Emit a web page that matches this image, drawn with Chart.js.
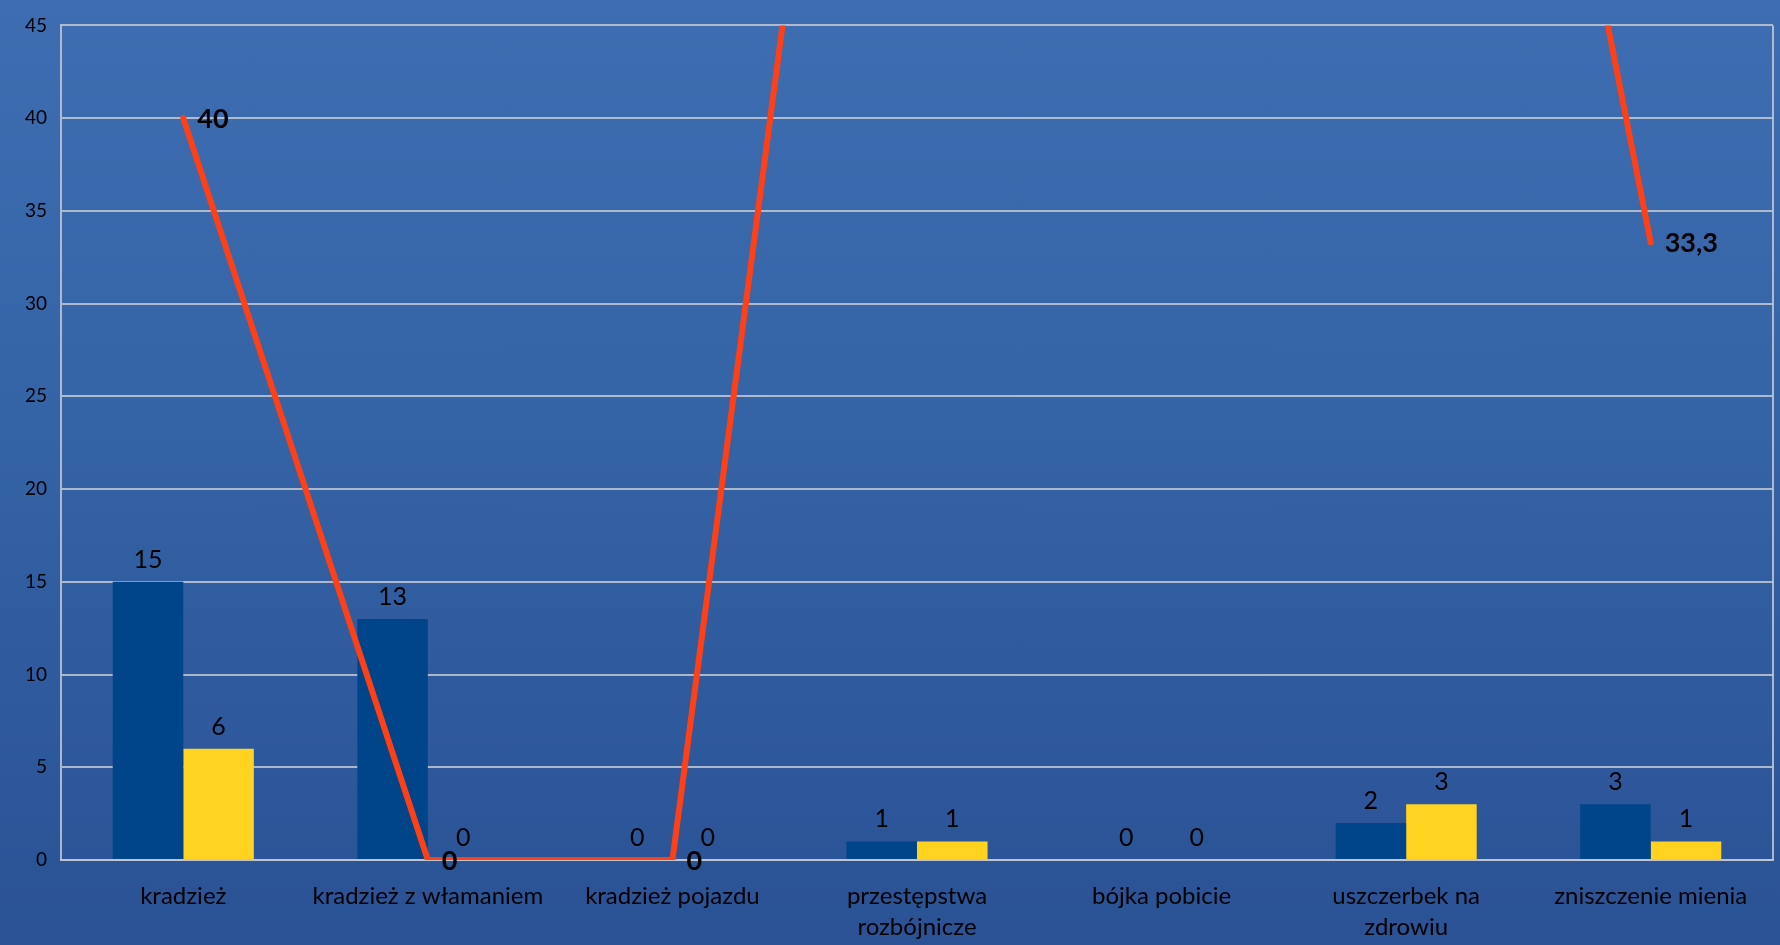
<!DOCTYPE html>
<html>
<head>
<meta charset="utf-8">
<script src="https://cdn.jsdelivr.net/npm/chart.js@4.4.0/dist/chart.umd.min.js"></script>
<style>
  html, body { margin: 0; padding: 0; }
  body { width: 1780px; height: 945px; background: linear-gradient(to bottom, #3E6EB1 0%, #3463A6 45%, #2A5295 100%); overflow: hidden; }
  #wrap { width: 1780px; height: 945px; position: relative; }
</style>
</head>
<body>
<div id="wrap"><canvas id="c" width="1780" height="945"></canvas></div>
<script>
const categories = [
  'kradzież',
  'kradzież z włamaniem',
  'kradzież pojazdu',
  ['przestępstwa', 'rozbójnicze'],
  'bójka pobicie',
  ['uszczerbek na', 'zdrowiu'],
  'zniszczenie mienia'
];
const seriesBlue = [15, 13, 0, 1, 0, 2, 3];
const seriesYellow = [6, 0, 0, 1, 0, 3, 1];
const seriesLine = [40, 0, 0, 100, 100, 100, 33.3];
const yTicks = [0, 5, 10, 15, 20, 25, 30, 35, 40, 45];

const FONT = 'Lato, "Open Sans", sans-serif';

function fmt(v) {
  return String(v).replace('.', ',');
}

const labelPlugin = {
  id: 'labelPlugin',
  afterDatasetsDraw(chart) {
    const ctx = chart.ctx;
    const area = chart.chartArea;
    ctx.save();
    ctx.fillStyle = '#000';
    chart.data.datasets.forEach((ds, di) => {
      const meta = chart.getDatasetMeta(di);
      if (ds.type === 'bar') {
        ctx.font = '25px ' + FONT;
        ctx.textAlign = 'center';
        ctx.textBaseline = 'alphabetic';
        meta.data.forEach((el, i) => {
          ctx.fillText(fmt(ds.data[i]), el.x, el.y - 14);
        });
      } else {
        ctx.font = 'bold 27px ' + FONT;
        ctx.textAlign = 'left';
        ctx.textBaseline = 'middle';
        meta.data.forEach((el, i) => {
          if (el.y >= area.top - 1 && el.y <= area.bottom + 1) {
            ctx.fillText(fmt(ds.data[i]), el.x + 14, el.y + 1);
          }
        });
      }
    });
    ctx.restore();
  },
  beforeDatasetsDraw(chart) {
    const ctx = chart.ctx;
    const a = chart.chartArea;
    ctx.save();
    ctx.strokeStyle = 'rgba(195,200,210,0.85)';
    ctx.lineWidth = 2;
    ctx.beginPath();
    ctx.moveTo(a.right, a.top);
    ctx.lineTo(a.right, a.bottom);
    ctx.stroke();
    ctx.restore();
  }
};

new Chart(document.getElementById('c'), {
  data: {
    labels: categories,
    datasets: [
      {
        type: 'line',
        data: seriesLine,
        borderColor: '#FF4016',
        borderWidth: 6,
        borderCapStyle: 'round',
        borderJoinStyle: 'round',
        pointRadius: 0,
        tension: 0,
        fill: false,
        clip: 0,
        order: 0
      },
      {
        type: 'bar',
        data: seriesBlue,
        backgroundColor: '#004589',
        categoryPercentage: 0.577,
        barPercentage: 1,
        order: 1
      },
      {
        type: 'bar',
        data: seriesYellow,
        backgroundColor: '#FFD320',
        categoryPercentage: 0.577,
        barPercentage: 1,
        order: 2
      }
    ]
  },
  options: {
    responsive: false,
    animation: false,
    devicePixelRatio: 1,
    layout: { padding: { top: 23, right: 7, left: 0, bottom: 0 } },
    plugins: { legend: { display: false }, tooltip: { enabled: false } },
    scales: {
      x: {
        grid: { display: false, drawTicks: false },
        border: { display: true, color: 'rgba(195,200,210,0.85)', width: 2 },
        ticks: {
          color: '#000',
          font: { family: FONT, size: 24, lineHeight: 1.28 },
          padding: 21,
          maxRotation: 0,
          autoSkip: false
        },
        afterFit(scale) { scale.height = 85; }
      },
      y: {
        min: 0,
        max: 45,
        afterBuildTicks(scale) { scale.ticks = yTicks.map(v => ({ value: v })); },
        grid: { color: 'rgba(195,200,210,0.85)', lineWidth: 2, drawTicks: false },
        border: { display: true, color: 'rgba(195,200,210,0.85)', width: 2 },
        ticks: {
          color: '#000',
          font: { family: FONT, size: 19 },
          padding: 14
        },
        afterFit(scale) { scale.width = 61; }
      }
    }
  },
  plugins: [labelPlugin]
});
</script>
</body>
</html>
